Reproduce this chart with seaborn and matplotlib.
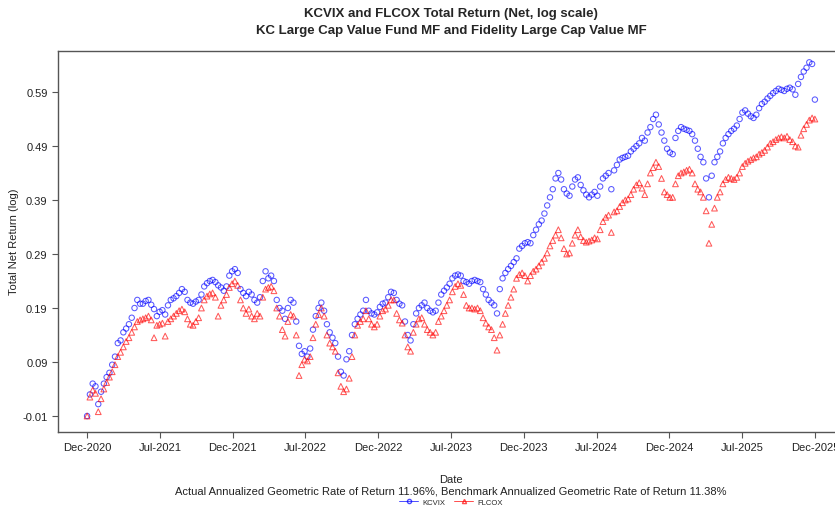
import matplotlib
matplotlib.use("Agg")
import matplotlib.pyplot as plt
import matplotlib.dates as mdates
from matplotlib.lines import Line2D
import numpy as np
import pandas as pd
import seaborn as sns

# weekly readings, Dec-2020 .. Dec-2025
start_date = "2020-12-04"

kcvix = [
    -0.010, 0.030, 0.050, 0.045, 0.012, 0.035, 0.050, 0.062, 0.070, 0.085,
    0.100, 0.125, 0.130, 0.145, 0.152, 0.160, 0.172, 0.190, 0.205, 0.198,
    0.198, 0.203, 0.205, 0.196, 0.188, 0.175, 0.183, 0.186, 0.178, 0.195,
    0.205, 0.208, 0.212, 0.218, 0.225, 0.220, 0.205, 0.200, 0.198, 0.202,
    0.205, 0.215, 0.230, 0.236, 0.240, 0.242, 0.238, 0.232, 0.228, 0.222,
    0.230, 0.250, 0.258, 0.262, 0.255, 0.225, 0.218, 0.212, 0.220, 0.215,
    0.205, 0.200, 0.210, 0.240, 0.258, 0.245, 0.250, 0.240, 0.205, 0.190,
    0.185, 0.170, 0.190, 0.205, 0.200, 0.165, 0.120, 0.105, 0.110, 0.100,
    0.115, 0.150, 0.175, 0.190, 0.200, 0.185, 0.160, 0.145, 0.135, 0.125,
    0.100, 0.072, 0.065, 0.095, 0.110, 0.140, 0.160, 0.170, 0.178, 0.185,
    0.205, 0.185, 0.180, 0.178, 0.182, 0.192, 0.198, 0.200, 0.210, 0.220,
    0.218, 0.205, 0.198, 0.195, 0.165, 0.140, 0.130, 0.160, 0.180, 0.190,
    0.195, 0.200, 0.190, 0.185, 0.182, 0.185, 0.200, 0.215, 0.222, 0.228,
    0.235, 0.245, 0.250, 0.252, 0.250, 0.240, 0.238, 0.235, 0.240, 0.242,
    0.240, 0.238, 0.225, 0.215, 0.205, 0.200, 0.195, 0.180, 0.225, 0.245,
    0.255, 0.262, 0.268, 0.275, 0.282, 0.300, 0.305, 0.310, 0.312, 0.310,
    0.325, 0.335, 0.345, 0.352, 0.365, 0.380, 0.395, 0.410, 0.430, 0.440,
    0.428, 0.410, 0.402, 0.398, 0.415, 0.428, 0.432, 0.418, 0.408, 0.400,
    0.395, 0.400, 0.405, 0.398, 0.415, 0.430, 0.435, 0.440, 0.410, 0.445,
    0.455, 0.465, 0.468, 0.470, 0.472, 0.480, 0.485, 0.490, 0.495, 0.505,
    0.500, 0.515, 0.525, 0.540, 0.548, 0.530, 0.515, 0.500, 0.485, 0.478,
    0.475, 0.505, 0.518, 0.525, 0.522, 0.520, 0.518, 0.512, 0.500, 0.485,
    0.470, 0.460, 0.430, 0.395, 0.435, 0.460, 0.470, 0.480, 0.495, 0.505,
    0.512, 0.518, 0.522, 0.528, 0.540, 0.552, 0.556, 0.550, 0.545, 0.542,
    0.548, 0.560, 0.568, 0.572, 0.578, 0.583, 0.588, 0.592, 0.596, 0.594,
    0.592, 0.596, 0.598, 0.595, 0.585, 0.605, 0.618, 0.628, 0.635, 0.645,
    0.642, 0.576,
]

flcox = [
    -0.010, 0.025, 0.038, 0.032, -0.002, 0.022, 0.040, 0.052, 0.062, 0.072,
    0.085, 0.100, 0.108, 0.118, 0.128, 0.135, 0.145, 0.155, 0.165, 0.168,
    0.170, 0.172, 0.175, 0.168, 0.135, 0.158, 0.160, 0.162, 0.138, 0.165,
    0.170, 0.175, 0.180, 0.185, 0.188, 0.183, 0.170, 0.160, 0.158, 0.165,
    0.172, 0.190, 0.205, 0.212, 0.216, 0.218, 0.210, 0.175, 0.195, 0.205,
    0.215, 0.228, 0.235, 0.240, 0.232, 0.205, 0.190, 0.180, 0.188, 0.175,
    0.170, 0.180, 0.175, 0.210, 0.225, 0.228, 0.230, 0.222, 0.190, 0.175,
    0.150, 0.138, 0.165, 0.178, 0.175, 0.140, 0.065, 0.085, 0.095, 0.092,
    0.100, 0.135, 0.160, 0.178, 0.190, 0.175, 0.140, 0.125, 0.118, 0.110,
    0.070, 0.045, 0.035, 0.040, 0.060, 0.100, 0.140, 0.158, 0.165, 0.170,
    0.185, 0.170, 0.160, 0.155, 0.160, 0.175, 0.185, 0.188, 0.195, 0.205,
    0.205, 0.180, 0.168, 0.162, 0.140, 0.118, 0.110, 0.145, 0.160, 0.170,
    0.172, 0.160, 0.150, 0.145, 0.140, 0.145, 0.165, 0.175, 0.185, 0.195,
    0.205, 0.220, 0.230, 0.235, 0.232, 0.215, 0.195, 0.190, 0.190, 0.188,
    0.190, 0.185, 0.172, 0.162, 0.155, 0.150, 0.135, 0.112, 0.140, 0.160,
    0.180, 0.195, 0.210, 0.225, 0.245, 0.252, 0.255, 0.250, 0.240, 0.250,
    0.258, 0.262, 0.268, 0.275, 0.282, 0.292, 0.305, 0.315, 0.325, 0.335,
    0.320, 0.300, 0.290, 0.292, 0.310, 0.325, 0.335, 0.322, 0.315, 0.312,
    0.314, 0.316, 0.320, 0.318, 0.335, 0.350, 0.358, 0.362, 0.330, 0.368,
    0.370, 0.378, 0.385, 0.390, 0.392, 0.400, 0.410, 0.418, 0.422, 0.412,
    0.400, 0.420, 0.440, 0.450, 0.460, 0.452, 0.430, 0.405, 0.400, 0.395,
    0.395, 0.420, 0.435, 0.440, 0.442, 0.445, 0.447, 0.440, 0.420, 0.410,
    0.405, 0.395, 0.370, 0.310, 0.345, 0.375, 0.395, 0.405, 0.420, 0.428,
    0.432, 0.430, 0.428, 0.432, 0.440, 0.452, 0.458, 0.462, 0.465, 0.468,
    0.470, 0.475, 0.478, 0.482, 0.488, 0.495, 0.498, 0.502, 0.505, 0.507,
    0.505, 0.508, 0.502, 0.498, 0.490, 0.488, 0.510, 0.522, 0.530, 0.538,
    0.542, 0.540,
]

y_ticks = [-0.01, 0.09, 0.19, 0.29, 0.39, 0.49, 0.59]
x_tick_labels = ["Dec-2020", "Jul-2021", "Dec-2021", "Jul-2022", "Dec-2022",
                 "Jul-2023", "Dec-2023", "Jul-2024", "Dec-2024", "Jul-2025",
                 "Dec-2025"]

dates = pd.date_range(start_date, periods=len(kcvix), freq="W-FRI")
df = pd.DataFrame({"Date": dates, "KCVIX": kcvix, "FLCOX": flcox})

sns.set_theme(style="ticks")
plt.rcParams["font.family"] = ["Liberation Sans", "DejaVu Sans"]

fig = plt.figure(figsize=(8.35, 5.1), dpi=100)
ax = fig.add_axes([58 / 835, 77 / 510, 786 / 835, 381 / 510])

sns.scatterplot(data=df, x="Date", y="KCVIX", marker="o", s=15,
                facecolor="none", edgecolor="#0000ff", linewidth=0.75,
                alpha=0.65, ax=ax)
sns.scatterplot(data=df, x="Date", y="FLCOX", marker="^", s=17,
                facecolor="none", edgecolor="#ff0000", linewidth=0.75,
                alpha=0.65, ax=ax)

x0 = mdates.date2num(dates[0])
x1 = mdates.date2num(dates[-1])
pad = 0.04 * (x1 - x0)
ax.set_xlim(x0 - pad, x1 + pad)
ax.set_xticks(np.linspace(x0, x1, len(x_tick_labels)))
ax.set_xticklabels(x_tick_labels)
ax.set_ylim(-0.0396, 0.666)
ax.set_yticks(y_ticks)
ax.set_yticklabels([f"{t:.2f}" for t in y_ticks])

ax.tick_params(axis="both", labelsize=8, length=4, width=0.8,
               color="#555555", labelcolor="#222222", direction="out")
for side in ["left", "top", "bottom"]:
    ax.spines[side].set_color("#555555")
    ax.spines[side].set_linewidth(1.0)
    ax.spines[side].set_visible(True)
ax.spines["right"].set_visible(False)

ax.set_xlabel("")
ax.set_ylabel("")
fig.text(14 / 835, 1 - 242 / 510, "Total Net Return (log)", rotation=90,
         ha="center", va="center", fontsize=8, color="#222222")

cx = (58 + 844) / 2 / 835
fig.text(cx, 1 - 14 / 510, "KCVIX and FLCOX Total Return (Net, log scale)",
         ha="center", va="center", fontsize=9.5, fontweight="bold")
fig.text(cx, 1 - 31 / 510, "KC Large Cap Value Fund MF and Fidelity Large Cap Value MF",
         ha="center", va="center", fontsize=9.5, fontweight="bold")
fig.text(cx, 1 - 480 / 510, "Date", ha="center", va="center", fontsize=8,
         color="#222222")
fig.text(cx, 1 - 492 / 510,
         "Actual Annualized Geometric Rate of Return 11.96%, "
         "Benchmark Annualized Geometric Rate of Return 11.38%",
         ha="center", va="center", fontsize=8, color="#222222")

handles = [
    Line2D([], [], color="#0000ff", marker="o", markerfacecolor="none",
           markersize=3, linewidth=0.7, alpha=0.7, label="KCVIX"),
    Line2D([], [], color="#ff0000", marker="^", markerfacecolor="none",
           markersize=3, linewidth=0.7, alpha=0.7, label="FLCOX"),
]
fig.legend(handles=handles, loc="center", bbox_to_anchor=(cx, 1 - 503 / 510),
           ncol=2, frameon=False, fontsize=5.5, handlelength=2.5,
           columnspacing=1.2, handletextpad=0.5, borderpad=0)

fig.savefig("out.png", dpi=100)
plt.close(fig)
